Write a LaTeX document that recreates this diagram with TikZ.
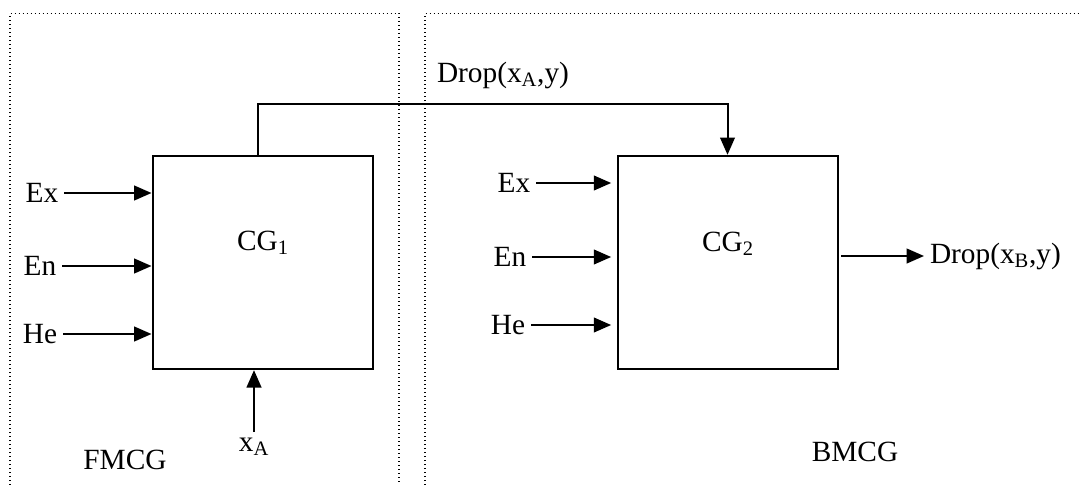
\documentclass[tikz,border=0pt]{standalone}
\usepackage{fontspec}
\setmainfont{Liberation Serif}
\usetikzlibrary{arrows.meta}

\begin{document}
\begin{tikzpicture}[x=0.75pt,y=-0.75pt,line width=1pt,
  font=\fontsize{22}{26}\selectfont,
  zone/.style={line width=1.2pt,dash pattern=on 1pt off 2pt},
  blockbox/.style={draw,line width=1.5pt,minimum width=165pt,minimum height=160pt,inner sep=0pt},
  arr/.style={line width=1.5pt,-{Triangle[length=13pt,width=11pt]}},
  lbl/.style={inner sep=4pt}]
\path[use as bounding box] (0,0) rectangle (1081,485);
% dotted zones
\draw[zone] (10,485) -- (10,13.5) -- (399,13.5) -- (399,485);
\draw[zone] (425,485) -- (425,13.5) -- (1081,13.5);
\node[lbl] (fmcg) at (125,460) {FMCG};
\node[lbl] (bmcg) at (855,452) {BMCG};
% blocks
\node[blockbox] (cg1) at (262.5,262.5) {};
\node[blockbox] (cg2) at (727.5,262.5) {};
\node[lbl] (cg1lbl) at (263,243) {CG\textsubscript{1}};
\node[lbl] (cg2lbl) at (728,244) {CG\textsubscript{2}};
% inputs of CG1
\node[lbl] (ex1) at (42,193) {Ex};
\node[lbl] (en1) at (40,266) {En};
\node[lbl] (he1) at (40,334) {He};
\draw[arr] (ex1) -- (ex1 -| cg1.west);
\draw[arr] (en1) -- (en1 -| cg1.west);
\draw[arr] (he1) -- (he1 -| cg1.west);
\node[lbl] (xa) at (254,447) {x\textsubscript{A}};
\draw[arr] (xa) -- (xa |- cg1.south);
% inputs of CG2
\node[lbl] (ex2) at (514,183) {Ex};
\node[lbl] (en2) at (510,257) {En};
\node[lbl] (he2) at (508,325) {He};
\draw[arr] (ex2) -- ([xshift=-4pt]ex2 -| cg2.west);
\draw[arr] (en2) -- ([xshift=-4pt]en2 -| cg2.west);
\draw[arr] (he2) -- ([xshift=-4pt]he2 -| cg2.west);
% link between the two
\node[lbl] (dropa) at (503,75) {Drop(x\textsubscript{A},y)};
\coordinate (bend) at (258,103.5);
\draw[arr] (bend |- cg1.north) -- (bend) -| (cg2.north);
% output
\node[lbl,anchor=west] (dropb) at (924,256) {Drop(x\textsubscript{B},y)};
\draw[arr] ([xshift=2pt]dropb.west -| cg2.east) -- (dropb.west);
\end{tikzpicture}
\end{document}
